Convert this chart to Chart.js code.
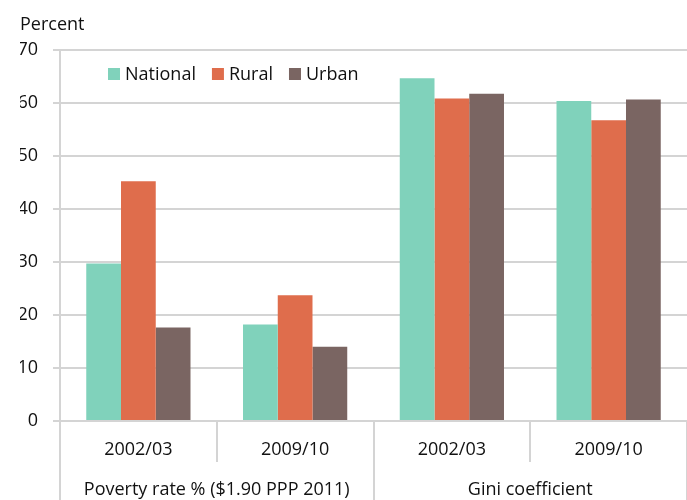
<!DOCTYPE html>
<html>
<head>
<meta charset="utf-8">
<script src="https://cdn.jsdelivr.net/npm/chart.js@4.4.1/dist/chart.umd.min.js"></script>
<style>
  html, body { margin: 0; padding: 0; background: #fff; }
  #wrap { width: 687px; height: 500px; }
</style>
</head>
<body>
<div id="wrap"><canvas id="chartCanvas" width="687" height="500"></canvas></div>
<script>
    // values
    var categories = ["2002/03", "2009/10", "2002/03", "2009/10"];
    var groups = ["Poverty rate % ($1.90 PPP 2011)", "Gini coefficient"];
    var national = [29.7, 18.2, 64.6, 60.3];
    var rural = [45.2, 23.7, 60.8, 56.7];
    var urban = [17.6, 14.0, 61.7, 60.6];
    var yMin = 0, yMax = 70, yStep = 10;

    var gridColor = "#d4d4d4";
    var textColor = "#111";
    var font = { family: "Open Sans", size: 18 };

    // legend drawn inside the plot, top left
    var innerLegend = {
        id: "innerLegend",
        afterDraw: function(chart) {
            var ctx = chart.ctx;
            var x = chart.chartArea.left + 48;
            var y = 74;
            ctx.save();
            ctx.font = font.size + "px " + font.family;
            ctx.textBaseline = "middle";
            ctx.textAlign = "left";
            chart.data.datasets.forEach(function(ds) {
                ctx.fillStyle = ds.backgroundColor;
                ctx.fillRect(x, y - 6, 12, 12);
                ctx.fillStyle = textColor;
                ctx.fillText(ds.label, x + 17, y + 1);
                x += 17 + ctx.measureText(ds.label).width + 16;
            });
            ctx.restore();
        }
    };

    var chartData = {
        labels: categories,
        datasets: [
            { label: "National", data: national, backgroundColor: "#80d2bb" },
            { label: "Rural", data: rural, backgroundColor: "#df6d4c" },
            { label: "Urban", data: urban, backgroundColor: "#7a6562" }
        ]
    };

    var chartOptions = {
        responsive: false,
        animation: false,
        layout: { padding: { left: 20, right: 0, top: 0, bottom: 0 } },
        datasets: { bar: { categoryPercentage: 0.665, barPercentage: 1.0 } },
        plugins: {
            legend: { display: false },
            tooltip: { enabled: false },
            title: {
                display: true,
                text: "Percent",
                align: "start",
                color: textColor,
                font: { family: "Open Sans", size: 18, weight: "normal" },
                padding: { top: 14, bottom: 14 }
            }
        },
        scales: {
            y: {
                min: yMin,
                max: yMax,
                afterFit: function(s) { s.width = 40; },
                ticks: { stepSize: yStep, color: textColor, font: font, padding: 15 },
                grid: { color: gridColor, lineWidth: 2, tickLength: 7 },
                border: { display: true, color: gridColor, width: 2 }
            },
            x: {
                weight: 0,
                afterFit: function(s) { s.height = 41; },
                ticks: { color: textColor, font: font, padding: -23, autoSkip: false, maxRotation: 0 },
                grid: { offset: true, drawOnChartArea: false, color: gridColor, lineWidth: 2, tickLength: 41 },
                border: { display: true, color: gridColor, width: 2 }
            },
            x2: {
                type: "category",
                labels: groups,
                position: "bottom",
                weight: 1,
                offset: true,
                afterFit: function(s) { s.height = 38; },
                ticks: { color: textColor, font: font, padding: -21, autoSkip: false, maxRotation: 0 },
                grid: { offset: true, drawOnChartArea: false, color: gridColor, lineWidth: 2, tickLength: 38 },
                border: { display: false }
            }
        }
    };

    window.onload = function() {
        var ctx = document.getElementById("chartCanvas").getContext("2d");
        window.myBar = new Chart(ctx, {
            type: "bar",
            data: chartData,
            options: chartOptions,
            plugins: [innerLegend]
        });
    };
</script>
</body>
</html>
